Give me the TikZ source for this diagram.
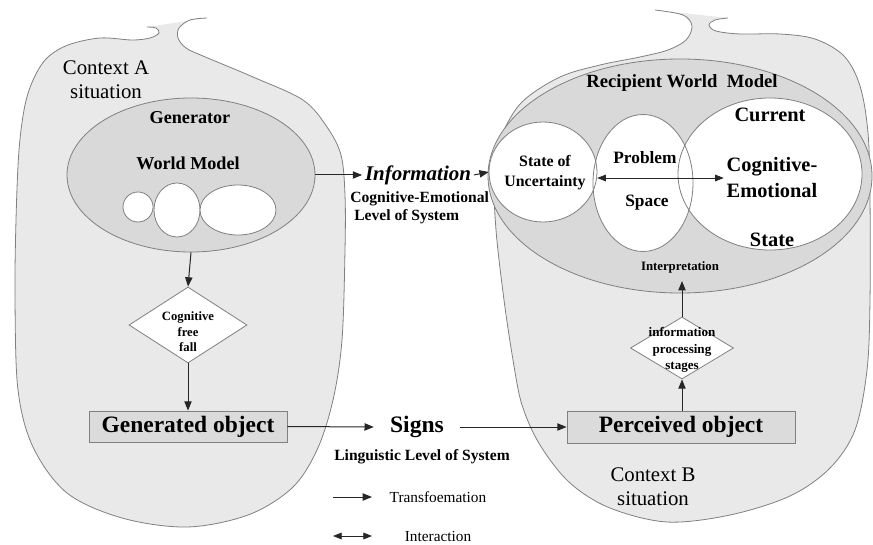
\documentclass[tikz,border=0pt]{standalone}
\usepackage{fontspec}
\setmainfont{Liberation Serif}
\usetikzlibrary{shapes.geometric,arrows.meta}
\newdimen\pxu \pxu=0.75pt
\definecolor{blobfill}{HTML}{E9E9E9}
\definecolor{ellfill}{HTML}{D9D9D9}
\definecolor{boxfill}{HTML}{DBDBDB}
\definecolor{edgegray}{HTML}{808080}
\begin{document}
\begin{tikzpicture}[x=0.75pt,y=-0.75pt,
  outline/.style={draw=edgegray,line width=0.6pt},
  arr/.style={-{Triangle[length=7pt,width=5.5pt]},line width=0.75pt,black!85},
  dblarr/.style={{Triangle[length=6.5pt,width=5pt]}-{Triangle[length=6.5pt,width=5pt]},line width=0.55pt,black!85},
  oval/.style={ellipse,inner sep=0pt,outline},
  whiteoval/.style={ellipse,inner sep=0pt,fill=white,draw=none},
  decision/.style={diamond,inner sep=0pt,fill=white,outline},
  objbox/.style={rectangle,fill=boxfill,outline,inner sep=0pt,font=\bfseries\fontsize{17.6}{20}\selectfont},
  lbl/.style={inner sep=1pt,align=center}
]
\useasboundingbox (0,0) rectangle (873,545);

% ---------- Context A blob ----------
\def\blobA{plot[smooth,tension=0.55] coordinates {(207,18) (190,20) (179,28) (178,38) (186,48) (203,56) (253,77) (303,100) (327,127) (341,155) (345,195) (345,250) (342,340) (333,400) (317,450) (292,488) (248,515) (187,527) (122,518) (67,493) (33,447) (18,390) (15,300) (16,220) (19,150) (25,105) (34,78) (47,58) (68,45) (100,38) (132,40) (150,38) (159,33) (156,28) (147,27)}}
\fill[blobfill] \blobA -- cycle;
\draw[outline] \blobA;

% ---------- Context B blob ----------
\def\blobB{plot[smooth,tension=0.55] coordinates {(655,10) (683,15) (692,26) (686,40) (668,50) (640,57) (600,65) (560,77) (522,102) (502,135) (494,170) (496,230) (504,300) (513,360) (522,405) (540,445) (570,483) (610,508) (667,522) (730,515) (790,496) (830,468) (855,430) (867,370) (870,300) (870,200) (868,133) (860,86) (844,56) (815,39) (780,34) (740,34) (716,31) (709,25) (715,20) (728,18)}}
\fill[blobfill] \blobB -- cycle;
\draw[outline] \blobB;

% ---------- Generator world model ----------
\node[oval,fill=ellfill,minimum width=248\pxu,minimum height=154\pxu] (genwm) at (191,175) {};
\node[oval,fill=white,minimum width=30\pxu,minimum height=30\pxu] (g1) at (138,207) {};
\node[oval,fill=white,minimum width=46\pxu,minimum height=54\pxu] (g2) at (177,210) {};
\node[oval,fill=white,minimum width=76\pxu,minimum height=50\pxu] (g3) at (238,210) {};
\node[lbl,font=\bfseries\fontsize{13.6}{16}\selectfont] (gentxt) at (190,118) {Generator};
\node[lbl,font=\bfseries\fontsize{13.6}{16}\selectfont] (wmtxt) at (188,163) {World Model};

\node[lbl,font=\fontsize{15.6}{18}\selectfont] (ctxA) at (106,80) {Context A\\situation};

\node[decision,minimum width=118\pxu,minimum height=76\pxu] (cff) at (188,325) {};
\node[lbl,font=\bfseries\fontsize{9.5}{11.6}\selectfont] (cfftxt) at (188,332) {Cognitive\\free\\fall};

\node[objbox,minimum width=198\pxu,minimum height=31\pxu] (genobj) at (188,426.5) {Generated object};

\draw[arr] (genwm.south) -- (cff.north);
\draw[arr] (cff.south) -- (genobj.north);

% ---------- Middle ----------
\node[lbl,inner xsep=2pt,font=\bfseries\itshape\fontsize{15.7}{18}\selectfont] (info) at (418,175) {Information};
\node[anchor=west,align=left,inner sep=0pt,font=\bfseries\fontsize{11.7}{13.5}\selectfont] (celevel) at (350,208) {Cognitive-Emotional\\\hspace*{3pt}Level of System};

\node[lbl,inner xsep=12pt,font=\bfseries\fontsize{17.7}{20}\selectfont] (signs) at (417,427) {Signs};
\node[lbl,font=\bfseries\fontsize{11.7}{13.5}\selectfont] (linglvl) at (422,457) {Linguistic Level of System};

\coordinate (lt1) at (333,497);
\coordinate (lt2) at (372,497);
\coordinate (li1) at (333,536);
\coordinate (li2) at (372,536);
\draw[arr] (lt1) -- (lt2);
\draw[dblarr] (li1) -- (li2);
\node[lbl,font=\fontsize{11.5}{13}\selectfont] (transf) at (438,497) {Transfoemation};
\node[lbl,font=\fontsize{11.5}{13}\selectfont] (interact) at (438,536) {Interaction};

% ---------- Recipient world model ----------
\node[oval,fill=ellfill,minimum width=384\pxu,minimum height=234\pxu] (rwm) at (680,176) {};
\node[whiteoval,minimum width=108\pxu,minimum height=100\pxu] (su) at (543,172) {};
\node[whiteoval,minimum width=100\pxu,minimum height=137\pxu] (ps) at (643,183) {};
\node[whiteoval,minimum width=184\pxu,minimum height=152\pxu] (ces) at (770,174) {};
\draw[outline] (su.center) ellipse [x radius=54\pxu, y radius=50\pxu];
\draw[outline] (ps.center) ellipse [x radius=50\pxu, y radius=68.5\pxu];
\draw[outline] (ces.center) ellipse [x radius=92\pxu, y radius=76\pxu];

\node[lbl,font=\bfseries\fontsize{14}{16}\selectfont] (rwmtxt) at (682,83) {Recipient World\ \ Model};
\node[lbl,font=\bfseries\fontsize{11.9}{15}\selectfont] (sutxt) at (545,173) {State of\\Uncertainty};
\node[lbl,font=\bfseries\fontsize{13}{15}\selectfont] (probtxt) at (645,158) {Problem};
\node[lbl,font=\bfseries\fontsize{13}{15}\selectfont] (spacetxt) at (647,203) {Space};
\node[lbl,font=\bfseries\fontsize{15.3}{17}\selectfont] (curtxt) at (770,115) {Current};
\node[lbl,inner xsep=2pt,font=\bfseries\fontsize{15.3}{19.5}\selectfont] (cetxt) at (772,178) {Cognitive-\\Emotional};
\node[lbl,font=\bfseries\fontsize{15.3}{17}\selectfont] (statetxt) at (772,240) {State};

\draw[dblarr] (su.east |- cetxt.west) -- (cetxt.west);

\draw[arr] (genwm.east) -- (info.west);
\draw[arr] (info.east) -- (su.west);

\node[lbl,inner ysep=6pt,font=\bfseries\fontsize{9.6}{11}\selectfont] (interp) at (680,267) {Interpretation};

\node[decision,minimum width=103\pxu,minimum height=62\pxu] (ips) at (682,348) {};
\node[lbl,font=\bfseries\fontsize{9.8}{12.2}\selectfont] (ipstxt) at (682,350) {information\\processing\\stages};

\node[objbox,minimum width=228\pxu,minimum height=32\pxu] (percobj) at (681,427) {Perceived object};

\draw[arr] (percobj.north -| ips.south) -- (ips.south);
\draw[arr] (ips.north) -- (interp.south -| ips.north);

\node[lbl,font=\fontsize{15.6}{18}\selectfont] (ctxB) at (653,487) {Context B\\situation};

\draw[arr] (genobj.east) -- (signs.west);
\draw[arr] (signs.east) -- (percobj.west);
\end{tikzpicture}
\end{document}
